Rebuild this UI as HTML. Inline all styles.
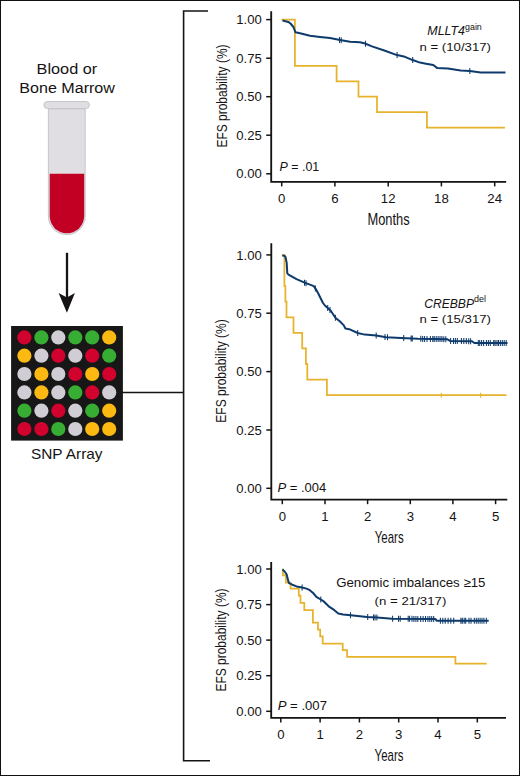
<!DOCTYPE html>
<html><head><meta charset="utf-8"><style>
html,body{margin:0;padding:0;background:#fff;}
svg{display:block;font-family:"Liberation Sans", sans-serif;}
</style></head><body>
<svg width="520" height="776" viewBox="0 0 520 776">
<rect x="0.5" y="0.5" width="519" height="775" fill="#fff" stroke="#111" stroke-width="1"/>
<text x="36.6" y="73.8" font-size="15.5" textLength="60.6" lengthAdjust="spacingAndGlyphs" fill="#151313" >Blood or</text>
<text x="19.3" y="92.6" font-size="15.4" textLength="95.6" lengthAdjust="spacingAndGlyphs" fill="#151313" >Bone Marrow</text>
<rect x="43.9" y="101.5" width="45.5" height="7" rx="3.5" fill="#dfdee3" stroke="#c6c5ca" stroke-width="1"/>
<path d="M48.4,109 V216 A18.4,18.4 0 0 0 85.2,216 V109 Z" fill="#e0dee3" stroke="#cbc9cf" stroke-width="1.1"/>
<path d="M49.7,173.8 V216 A17.25,17.25 0 0 0 84.2,216 V173.8 Z" fill="#c20024"/>
<line x1="67" y1="252.8" x2="67" y2="300" stroke="#151313" stroke-width="2.3"/>
<path d="M58.6,293.1 L66.9,312.8 L74.9,293.1 L66.9,297.6 Z" fill="#151313"/>
<rect x="11.1" y="326" width="111.8" height="114.6" fill="#171717"/>
<ellipse cx="24.4" cy="337.4" rx="7.1" ry="7.1" fill="#d2022e"/>
<ellipse cx="41.4" cy="337.4" rx="7.1" ry="7.1" fill="#38ad33"/>
<ellipse cx="58.3" cy="337.4" rx="7.1" ry="7.1" fill="#d0ced4"/>
<ellipse cx="75.3" cy="337.4" rx="7.1" ry="7.1" fill="#38ad33"/>
<ellipse cx="92.2" cy="337.4" rx="7.1" ry="7.1" fill="#38ad33"/>
<ellipse cx="109.2" cy="337.4" rx="7.1" ry="7.1" fill="#fbb912"/>
<ellipse cx="24.4" cy="355.7" rx="7.1" ry="7.1" fill="#fbb912"/>
<ellipse cx="41.4" cy="355.7" rx="7.1" ry="7.1" fill="#d0ced4"/>
<ellipse cx="58.3" cy="355.7" rx="7.1" ry="7.1" fill="#d2022e"/>
<ellipse cx="75.3" cy="355.7" rx="7.1" ry="7.1" fill="#d0ced4"/>
<ellipse cx="92.2" cy="355.7" rx="7.1" ry="7.1" fill="#d2022e"/>
<ellipse cx="109.2" cy="355.7" rx="7.1" ry="7.1" fill="#38ad33"/>
<ellipse cx="24.4" cy="374.0" rx="7.1" ry="7.1" fill="#d0ced4"/>
<ellipse cx="41.4" cy="374.0" rx="7.1" ry="7.1" fill="#fbb912"/>
<ellipse cx="58.3" cy="374.0" rx="7.1" ry="7.1" fill="#d0ced4"/>
<ellipse cx="75.3" cy="374.0" rx="7.1" ry="7.1" fill="#d2022e"/>
<ellipse cx="92.2" cy="374.0" rx="7.1" ry="7.1" fill="#fbb912"/>
<ellipse cx="109.2" cy="374.0" rx="7.1" ry="7.1" fill="#d2022e"/>
<ellipse cx="24.4" cy="392.4" rx="7.1" ry="7.1" fill="#d0ced4"/>
<ellipse cx="41.4" cy="392.4" rx="7.1" ry="7.1" fill="#fbb912"/>
<ellipse cx="58.3" cy="392.4" rx="7.1" ry="7.1" fill="#d0ced4"/>
<ellipse cx="75.3" cy="392.4" rx="7.1" ry="7.1" fill="#38ad33"/>
<ellipse cx="92.2" cy="392.4" rx="7.1" ry="7.1" fill="#d2022e"/>
<ellipse cx="109.2" cy="392.4" rx="7.1" ry="7.1" fill="#d0ced4"/>
<ellipse cx="24.4" cy="410.7" rx="7.1" ry="7.1" fill="#38ad33"/>
<ellipse cx="41.4" cy="410.7" rx="7.1" ry="7.1" fill="#d0ced4"/>
<ellipse cx="58.3" cy="410.7" rx="7.1" ry="7.1" fill="#d2022e"/>
<ellipse cx="75.3" cy="410.7" rx="7.1" ry="7.1" fill="#d0ced4"/>
<ellipse cx="92.2" cy="410.7" rx="7.1" ry="7.1" fill="#38ad33"/>
<ellipse cx="109.2" cy="410.7" rx="7.1" ry="7.1" fill="#fbb912"/>
<ellipse cx="24.4" cy="429.0" rx="7.1" ry="7.1" fill="#d2022e"/>
<ellipse cx="41.4" cy="429.0" rx="7.1" ry="7.1" fill="#d2022e"/>
<ellipse cx="58.3" cy="429.0" rx="7.1" ry="7.1" fill="#38ad33"/>
<ellipse cx="75.3" cy="429.0" rx="7.1" ry="7.1" fill="#d0ced4"/>
<ellipse cx="92.2" cy="429.0" rx="7.1" ry="7.1" fill="#fbb912"/>
<ellipse cx="109.2" cy="429.0" rx="7.1" ry="7.1" fill="#fbb912"/>
<text x="31" y="458.75" font-size="15" textLength="71.5" lengthAdjust="spacingAndGlyphs" fill="#151313" >SNP Array</text>
<line x1="122" y1="392.5" x2="184" y2="392.5" stroke="#151313" stroke-width="1.6"/>
<path d="M208,11 H183.6 V760.8 H210" fill="none" stroke="#151313" stroke-width="1.6"/>
<path d="M271.2,11.2 V181.8 H506.2" fill="none" stroke="#151313" stroke-width="1.85"/>
<line x1="266.2" y1="19.6" x2="271.2" y2="19.6" stroke="#151313" stroke-width="1.5"/>
<text x="261.8" y="24.2" font-size="13.2" textLength="25.5" lengthAdjust="spacingAndGlyphs" text-anchor="end" fill="#151313" >1.00</text>
<line x1="266.2" y1="58.2" x2="271.2" y2="58.2" stroke="#151313" stroke-width="1.5"/>
<text x="261.8" y="62.8" font-size="13.2" textLength="25.5" lengthAdjust="spacingAndGlyphs" text-anchor="end" fill="#151313" >0.75</text>
<line x1="266.2" y1="96.7" x2="271.2" y2="96.7" stroke="#151313" stroke-width="1.5"/>
<text x="261.8" y="101.3" font-size="13.2" textLength="25.5" lengthAdjust="spacingAndGlyphs" text-anchor="end" fill="#151313" >0.50</text>
<line x1="266.2" y1="135.2" x2="271.2" y2="135.2" stroke="#151313" stroke-width="1.5"/>
<text x="261.8" y="139.8" font-size="13.2" textLength="25.5" lengthAdjust="spacingAndGlyphs" text-anchor="end" fill="#151313" >0.25</text>
<line x1="266.2" y1="173.8" x2="271.2" y2="173.8" stroke="#151313" stroke-width="1.5"/>
<text x="261.8" y="178.4" font-size="13.2" textLength="25.5" lengthAdjust="spacingAndGlyphs" text-anchor="end" fill="#151313" >0.00</text>
<line x1="281.7" y1="181.8" x2="281.7" y2="186.4" stroke="#151313" stroke-width="1.5"/>
<text x="281.7" y="203.10000000000002" font-size="13.2" text-anchor="middle" fill="#151313" >0</text>
<line x1="334.9" y1="181.8" x2="334.9" y2="186.4" stroke="#151313" stroke-width="1.5"/>
<text x="334.9" y="203.10000000000002" font-size="13.2" text-anchor="middle" fill="#151313" >6</text>
<line x1="388.2" y1="181.8" x2="388.2" y2="186.4" stroke="#151313" stroke-width="1.5"/>
<text x="388.2" y="203.10000000000002" font-size="13.2" text-anchor="middle" fill="#151313" >12</text>
<line x1="441.4" y1="181.8" x2="441.4" y2="186.4" stroke="#151313" stroke-width="1.5"/>
<text x="441.4" y="203.10000000000002" font-size="13.2" text-anchor="middle" fill="#151313" >18</text>
<line x1="494.7" y1="181.8" x2="494.7" y2="186.4" stroke="#151313" stroke-width="1.5"/>
<text x="494.7" y="203.10000000000002" font-size="13.2" text-anchor="middle" fill="#151313" >24</text>
<text x="367.5" y="224.6" font-size="16.2" textLength="42.2" lengthAdjust="spacingAndGlyphs" fill="#151313" >Months</text>
<text transform="translate(226.6,96.0) rotate(-90)" x="0" y="0" font-size="13.8" text-anchor="middle" textLength="103" lengthAdjust="spacingAndGlyphs" fill="#151313">EFS probability (%)</text>
<text x="279.5" y="170.8" font-size="12.5" fill="#151313" textLength="39.7" lengthAdjust="spacingAndGlyphs"><tspan font-style="italic">P</tspan> = .01</text>
<path d="M281.4,19.5 H294.9 V65.9 H336.6 V81.3 H358.5 V96.7 H377.0 V112.1 H426.9 V127.5 H505.0 V127.5" fill="none" stroke="#e7b22c" stroke-width="1.75" stroke-linejoin="miter"/>
<path d="M282.5,20.6 L288.3,21.9 L290.5,23.5 L293.4,27.0 L295.5,32.3 L300.0,33.3 L310.0,35.8 L320.0,37.0 L330.0,38.0 L340.0,40.0 L350.0,41.8 L360.0,42.3 L365.0,43.5 L372.0,46.4 L385.0,50.8 L397.0,55.1 L405.0,56.8 L412.0,59.8 L420.0,62.6 L426.0,63.7 L433.3,65.0 L437.0,67.9 L447.9,68.6 L460.7,70.5 L469.8,71.0 L480.8,72.5 L505.5,72.5" fill="none" stroke="#0f3b6c" stroke-width="2.0" stroke-linejoin="round"/>
<path d="M339.5,36.9 V42.9 M341.2,37.2 V43.2 M365.5,40.7 V46.7 M397.1,52.1 V58.1 M412.7,57.0 V63.0 M469.8,68.0 V74.0 " stroke="#0f3b6c" stroke-width="1.05" fill="none"/>
<text x="427.3" y="35.1" font-size="12" textLength="37.7" lengthAdjust="spacingAndGlyphs" font-style="italic" fill="#151313" >MLLT4</text>
<text x="465" y="30.4" font-size="9" textLength="16.8" lengthAdjust="spacingAndGlyphs" fill="#151313" >gain</text>
<text x="419.5" y="51.2" font-size="11.6" textLength="71.5" lengthAdjust="spacingAndGlyphs" fill="#151313" >n = (10/317)</text>
<path d="M271.3,243.2 V499.6 H507.3" fill="none" stroke="#151313" stroke-width="1.85"/>
<line x1="266.3" y1="254.9" x2="271.3" y2="254.9" stroke="#151313" stroke-width="1.5"/>
<text x="261.8" y="259.5" font-size="13.2" textLength="25.5" lengthAdjust="spacingAndGlyphs" text-anchor="end" fill="#151313" >1.00</text>
<line x1="266.3" y1="313.2" x2="271.3" y2="313.2" stroke="#151313" stroke-width="1.5"/>
<text x="261.8" y="317.9" font-size="13.2" textLength="25.5" lengthAdjust="spacingAndGlyphs" text-anchor="end" fill="#151313" >0.75</text>
<line x1="266.3" y1="371.6" x2="271.3" y2="371.6" stroke="#151313" stroke-width="1.5"/>
<text x="261.8" y="376.2" font-size="13.2" textLength="25.5" lengthAdjust="spacingAndGlyphs" text-anchor="end" fill="#151313" >0.50</text>
<line x1="266.3" y1="430.0" x2="271.3" y2="430.0" stroke="#151313" stroke-width="1.5"/>
<text x="261.8" y="434.6" font-size="13.2" textLength="25.5" lengthAdjust="spacingAndGlyphs" text-anchor="end" fill="#151313" >0.25</text>
<line x1="266.3" y1="488.3" x2="271.3" y2="488.3" stroke="#151313" stroke-width="1.5"/>
<text x="261.8" y="492.9" font-size="13.2" textLength="25.5" lengthAdjust="spacingAndGlyphs" text-anchor="end" fill="#151313" >0.00</text>
<line x1="282.3" y1="499.6" x2="282.3" y2="504.20000000000005" stroke="#151313" stroke-width="1.5"/>
<text x="282.3" y="520.9" font-size="13.2" text-anchor="middle" fill="#151313" >0</text>
<line x1="325.0" y1="499.6" x2="325.0" y2="504.20000000000005" stroke="#151313" stroke-width="1.5"/>
<text x="325.0" y="520.9" font-size="13.2" text-anchor="middle" fill="#151313" >1</text>
<line x1="367.6" y1="499.6" x2="367.6" y2="504.20000000000005" stroke="#151313" stroke-width="1.5"/>
<text x="367.6" y="520.9" font-size="13.2" text-anchor="middle" fill="#151313" >2</text>
<line x1="410.3" y1="499.6" x2="410.3" y2="504.20000000000005" stroke="#151313" stroke-width="1.5"/>
<text x="410.3" y="520.9" font-size="13.2" text-anchor="middle" fill="#151313" >3</text>
<line x1="452.9" y1="499.6" x2="452.9" y2="504.20000000000005" stroke="#151313" stroke-width="1.5"/>
<text x="452.9" y="520.9" font-size="13.2" text-anchor="middle" fill="#151313" >4</text>
<line x1="495.6" y1="499.6" x2="495.6" y2="504.20000000000005" stroke="#151313" stroke-width="1.5"/>
<text x="495.6" y="520.9" font-size="13.2" text-anchor="middle" fill="#151313" >5</text>
<text x="374.8" y="542.5" font-size="16.4" textLength="28.8" lengthAdjust="spacingAndGlyphs" fill="#151313" >Years</text>
<text transform="translate(226.3,371) rotate(-90)" x="0" y="0" font-size="13.8" text-anchor="middle" textLength="103.3" lengthAdjust="spacingAndGlyphs" fill="#151313">EFS probability (%)</text>
<text x="277.5" y="491.75" font-size="12.5" fill="#151313" textLength="48.75" lengthAdjust="spacingAndGlyphs"><tspan font-style="italic">P</tspan> = .004</text>
<path d="M281.8,255.1 H284.4 V286.1 H285.4 V301.7 H286.5 V317.4 H293.5 V332.9 H302.2 V348.4 H305.9 V364.0 H307.3 V379.5 H326.9 V395.2 H506.5 V395.2" fill="none" stroke="#e7b22c" stroke-width="1.75" stroke-linejoin="miter"/>
<path d="M441.3,392.7 V397.7 M480.6,392.7 V397.7 " stroke="#e7b22c" stroke-width="1.1" fill="none"/>
<path d="M282.3,255.5 L284.4,255.8 L285.5,257.0 L286.7,263.0 L287.3,273.4 L288.5,274.6 L296.5,279.2 L304.6,282.7 L310.0,284.6 L313.8,286.1 L316.1,289.6 L318.0,293.0 L323.0,303.0 L325.4,306.0 L330.8,310.8 L335.4,317.7 L340.0,321.5 L343.8,325.4 L345.4,328.5 L349.2,329.2 L357.7,333.0 L364.6,334.6 L376.2,335.4 L386.0,337.2 L401.0,338.0 L418.0,338.8 L447.0,339.2 L450.0,340.9 L472.0,341.2 L474.4,343.0 L507.5,343.0" fill="none" stroke="#0f3b6c" stroke-width="2.0" stroke-linejoin="round"/>
<path d="M304.5,279.7 V285.7 M306.0,280.2 V286.2 M315.4,285.5 V291.5 M327.7,305.0 V311.0 M330.0,307.1 V313.1 M335.4,314.7 V320.7 M357.7,330.0 V336.0 M376.2,332.4 V338.4 M385.0,334.0 V340.0 M387.5,334.3 V340.3 M403.7,335.1 V341.1 M411.1,335.5 V341.5 M412.3,335.5 V341.5 M420.8,335.8 V341.8 M422.7,335.9 V341.9 M424.6,335.9 V341.9 M427.0,335.9 V341.9 M430.4,336.0 V342.0 M432.8,336.0 V342.0 M434.2,336.0 V342.0 M436.2,336.1 V342.1 M438.1,336.1 V342.1 M440.0,336.1 V342.1 M441.9,336.1 V342.1 M443.8,336.2 V342.2 M445.8,336.2 V342.2 M450.6,337.9 V343.9 M453.5,337.9 V343.9 M455.4,338.0 V344.0 M457.3,338.0 V344.0 M461.4,338.1 V344.1 M463.8,338.1 V344.1 M466.3,338.1 V344.1 M468.7,338.2 V344.2 M470.6,338.2 V344.2 M478.3,340.0 V346.0 M479.7,340.0 V346.0 M481.6,340.0 V346.0 M483.6,340.0 V346.0 M486.4,340.0 V346.0 M488.4,340.0 V346.0 M490.3,340.0 V346.0 M493.7,340.0 V346.0 M495.1,340.0 V346.0 M497.0,340.0 V346.0 M498.5,340.0 V346.0 M500.4,340.0 V346.0 M502.3,340.0 V346.0 M504.2,340.0 V346.0 M506.2,340.0 V346.0 " stroke="#0f3b6c" stroke-width="1.05" fill="none"/>
<text x="424.2" y="308" font-size="12" textLength="49.8" lengthAdjust="spacingAndGlyphs" font-style="italic" fill="#151313" >CREBBP</text>
<text x="474" y="302.3" font-size="9" textLength="12" lengthAdjust="spacingAndGlyphs" fill="#151313" >del</text>
<text x="419.5" y="323.4" font-size="11.6" textLength="71.5" lengthAdjust="spacingAndGlyphs" fill="#151313" >n = (15/317)</text>
<path d="M271.2,562.0 V717.9 H506" fill="none" stroke="#151313" stroke-width="1.85"/>
<line x1="266.2" y1="569.0" x2="271.2" y2="569.0" stroke="#151313" stroke-width="1.5"/>
<text x="261.8" y="573.6" font-size="13.2" textLength="25.5" lengthAdjust="spacingAndGlyphs" text-anchor="end" fill="#151313" >1.00</text>
<line x1="266.2" y1="604.6" x2="271.2" y2="604.6" stroke="#151313" stroke-width="1.5"/>
<text x="261.8" y="609.2" font-size="13.2" textLength="25.5" lengthAdjust="spacingAndGlyphs" text-anchor="end" fill="#151313" >0.75</text>
<line x1="266.2" y1="640.1" x2="271.2" y2="640.1" stroke="#151313" stroke-width="1.5"/>
<text x="261.8" y="644.8" font-size="13.2" textLength="25.5" lengthAdjust="spacingAndGlyphs" text-anchor="end" fill="#151313" >0.50</text>
<line x1="266.2" y1="675.7" x2="271.2" y2="675.7" stroke="#151313" stroke-width="1.5"/>
<text x="261.8" y="680.3" font-size="13.2" textLength="25.5" lengthAdjust="spacingAndGlyphs" text-anchor="end" fill="#151313" >0.25</text>
<line x1="266.2" y1="711.3" x2="271.2" y2="711.3" stroke="#151313" stroke-width="1.5"/>
<text x="261.8" y="715.9" font-size="13.2" textLength="25.5" lengthAdjust="spacingAndGlyphs" text-anchor="end" fill="#151313" >0.00</text>
<line x1="280.8" y1="717.9" x2="280.8" y2="722.5" stroke="#151313" stroke-width="1.5"/>
<text x="280.8" y="739.1999999999999" font-size="13.2" text-anchor="middle" fill="#151313" >0</text>
<line x1="320.1" y1="717.9" x2="320.1" y2="722.5" stroke="#151313" stroke-width="1.5"/>
<text x="320.1" y="739.1999999999999" font-size="13.2" text-anchor="middle" fill="#151313" >1</text>
<line x1="359.4" y1="717.9" x2="359.4" y2="722.5" stroke="#151313" stroke-width="1.5"/>
<text x="359.4" y="739.1999999999999" font-size="13.2" text-anchor="middle" fill="#151313" >2</text>
<line x1="398.7" y1="717.9" x2="398.7" y2="722.5" stroke="#151313" stroke-width="1.5"/>
<text x="398.7" y="739.1999999999999" font-size="13.2" text-anchor="middle" fill="#151313" >3</text>
<line x1="438.0" y1="717.9" x2="438.0" y2="722.5" stroke="#151313" stroke-width="1.5"/>
<text x="438.0" y="739.1999999999999" font-size="13.2" text-anchor="middle" fill="#151313" >4</text>
<line x1="477.3" y1="717.9" x2="477.3" y2="722.5" stroke="#151313" stroke-width="1.5"/>
<text x="477.3" y="739.1999999999999" font-size="13.2" text-anchor="middle" fill="#151313" >5</text>
<text x="374.6" y="760.7" font-size="16.4" textLength="28.8" lengthAdjust="spacingAndGlyphs" fill="#151313" >Years</text>
<text transform="translate(226.3,640) rotate(-90)" x="0" y="0" font-size="13.8" text-anchor="middle" textLength="103" lengthAdjust="spacingAndGlyphs" fill="#151313">EFS probability (%)</text>
<text x="277.7" y="710" font-size="12.5" fill="#151313" textLength="49.3" lengthAdjust="spacingAndGlyphs"><tspan font-style="italic">P</tspan> = .007</text>
<path d="M282.2,569.4 H282.9 V575.4 H285.9 V582.5 H290.6 V588.6 H298.8 V595.7 H300.5 V602.8 H304.3 V610.0 H312.9 V622.6 H318.0 V629.7 H320.2 V636.3 H322.7 V643.7 H342.7 V650.2 H347.1 V656.9 H455.4 V663.5 H486.7 V663.5" fill="none" stroke="#e7b22c" stroke-width="1.75" stroke-linejoin="miter"/>
<path d="M282.4,569.4 L284.6,571.5 L286.6,574.3 L288.4,581.4 L289.0,583.1 L292.3,584.7 L296.6,586.4 L302.1,587.5 L306.5,588.6 L309.8,590.2 L313.1,593.0 L316.4,596.8 L320.8,599.5 L324.1,601.7 L328.7,606.3 L334.4,610.2 L338.3,613.5 L343.1,614.4 L350.8,615.3 L367.0,617.0 L377.0,617.6 L392.0,618.8 L435.5,618.9 L436.6,620.7 L488.7,620.8" fill="none" stroke="#0f3b6c" stroke-width="2.0" stroke-linejoin="round"/>
<path d="M302.1,584.5 V590.5 M320.8,596.5 V602.5 M350.5,612.3 V618.3 M367.7,614.0 V620.0 M373.5,614.4 V620.4 M375.0,614.5 V620.5 M376.9,614.6 V620.6 M392.6,615.8 V621.8 M398.5,615.8 V621.8 M400.2,615.8 V621.8 M408.2,615.8 V621.8 M409.6,615.8 V621.8 M412.0,615.8 V621.8 M413.9,615.9 V621.9 M415.9,615.9 V621.9 M417.8,615.9 V621.9 M420.7,615.9 V621.9 M423.1,615.9 V621.9 M425.5,615.9 V621.9 M427.9,615.9 V621.9 M429.8,615.9 V621.9 M431.7,615.9 V621.9 M433.7,615.9 V621.9 M440.4,617.7 V623.7 M442.8,617.7 V623.7 M445.2,617.7 V623.7 M448.1,617.7 V623.7 M450.8,617.7 V623.7 M453.7,617.7 V623.7 M460.9,617.7 V623.7 M462.3,617.7 V623.7 M464.2,617.8 V623.8 M465.7,617.8 V623.8 M469.0,617.8 V623.8 M471.0,617.8 V623.8 M474.3,617.8 V623.8 M476.3,617.8 V623.8 M478.2,617.8 V623.8 M480.1,617.8 V623.8 M482.0,617.8 V623.8 M483.9,617.8 V623.8 M486.3,617.8 V623.8 " stroke="#0f3b6c" stroke-width="1.05" fill="none"/>
<text x="336.2" y="586.9" font-size="12.8" textLength="149.2" lengthAdjust="spacingAndGlyphs" fill="#151313" >Genomic imbalances ≥15</text>
<text x="374.6" y="604.5" font-size="11.6" textLength="71.7" lengthAdjust="spacingAndGlyphs" fill="#151313" >(n = 21/317)</text>
</svg>
</body></html>
